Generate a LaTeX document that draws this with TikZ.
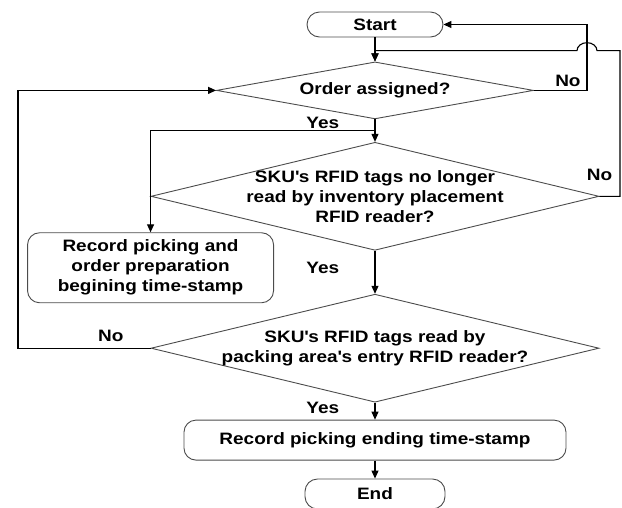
\documentclass[tikz,border=0pt]{standalone}
\usepackage{fontspec}
\setmainfont[FakeStretch=1.15]{Liberation Sans}
\usetikzlibrary{shapes,arrows.meta,positioning,calc}
\newcommand{\ap}{\textquotesingle}

\tikzset{
  term/.style={rectangle,rounded corners=12.5pt,draw=black!70,line width=0.9pt,
    minimum width=136pt,minimum height=25pt,inner sep=0pt},
  decision/.style={diamond,draw=black!70,line width=0.9pt,inner sep=0pt,
    minimum width=448pt,minimum height=108pt},
  procbox/.style args={#1,#2}{rectangle,rounded corners=12pt,draw=black!70,
    line width=0.9pt,align=center,inner sep=0pt,
    minimum width=#1pt,minimum height=#2pt},
  txt/.style={align=center}
}

\begin{document}
\begin{tikzpicture}[->,>={Triangle[length=8pt,width=7pt]},x=1pt,y=1pt,
  line width=1.1pt,font=\fontsize{16.5}{20}\selectfont\bfseries]
  \useasboundingbox (0,0) rectangle (622,-507);
  \node[term] (start) at (375,-24.5) {Start};
  \node[decision,minimum width=317pt,minimum height=57pt,below=24pt of start,
    label={center:Order assigned?}] (q1) {};
  \node[decision,below=22.5pt of q1,
    label={[txt]center:SKU\ap s RFID tags no longer\\read by inventory placement\\RFID reader?}] (q2) {};
  \node[decision,below=43pt of q2,
    label={[txt]center:SKU\ap s RFID tags read by\\packing area\ap s entry RFID reader?}] (q3) {};
  \node[procbox={382,40},below=17pt of q3] (rec2) {Record picking ending time-stamp};
  \node[term,minimum width=140pt,minimum height=30pt,below=18pt of rec2] (fin) {End};
  \node[procbox={246,70},below=36pt of q2.west] (rec1) {Record picking and\\order preparation\\begining time-stamp};

  \coordinate (m) at ($(start.south)!0.55!(q1.north)$);
  \coordinate (b) at ($(q1.south)!0.5!(q2.north)$);
  \coordinate (r1) at (587,-24.5);
  \coordinate (r2) at ($(m)+(245,0)$);
  \coordinate (l3) at (18,-220);

  \path (start) edge (q1)
        (q1) edge node[left=32pt,pos=0.15]{Yes} (q2)
        (q2) edge node[left=32pt,pos=0.4]{Yes} (q3)
        (q3) edge node[left=32pt,pos=0.33]{Yes} (rec2)
        (rec2) edge (fin);
  % loops back to the top
  \draw (q1.east) -| node[above,pos=0.32]{No} (r1) -- (start.east);
  \draw (q2.east) node[above=12pt]{No} -| (r2)
    -- ($(r1|-r2)+(10,0)$) arc[start angle=0,end angle=180,x radius=10,y radius=8]
    -- (m) -- (q1.north);
  \draw (b) -| (rec1.north);
  \draw (q3.west) -| node[above=3pt,pos=0.15]{No} (l3) |- (q1.west);
\end{tikzpicture}
\end{document}
